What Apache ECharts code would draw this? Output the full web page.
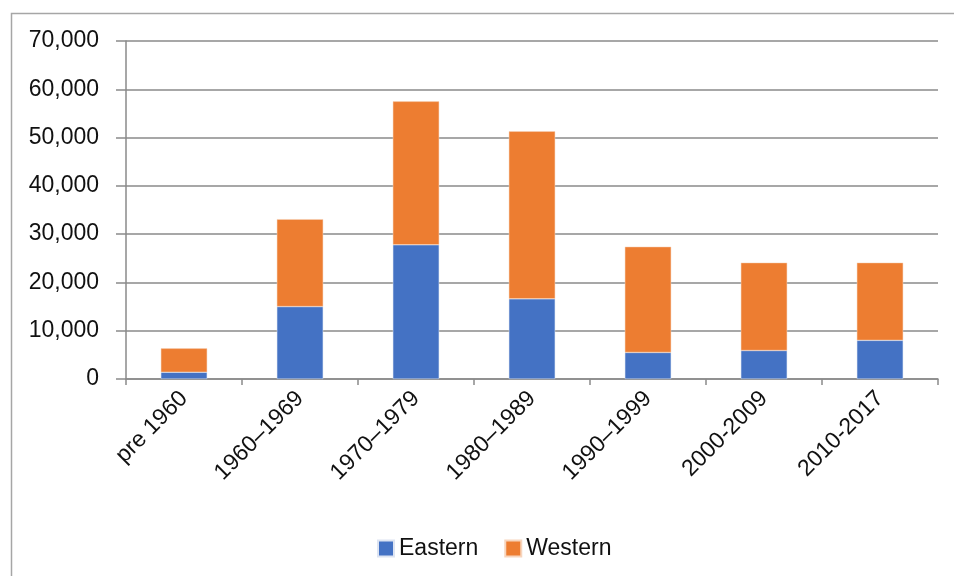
<!DOCTYPE html>
<html>
<head>
<meta charset="utf-8">
<script src="https://cdn.jsdelivr.net/npm/echarts@6/dist/echarts.min.js"></script>
<style>html,body{margin:0;padding:0;background:#fff}#c{width:954px;height:576px}</style>
</head>
<body>
<div id="c"></div>
<script>
const categories = ['pre 1960', '1960\u20131969', '1970\u20131979', '1980\u20131989', '1990\u20131999', '2000-2009', '2010-2017'];
const eastern = [1400, 15000, 27800, 16600, 5500, 5900, 8000];
const western = [4950, 18100, 29700, 34700, 21900, 18200, 16100];
const yTicks = { min: 0, max: 70000, interval: 10000 };

const FONT = '"Liberation Sans", Arial, sans-serif';
const chart = echarts.init(document.getElementById('c'), null, { renderer: 'canvas' });
chart.setOption({
  animation: false,
  backgroundColor: '#ffffff',
  graphic: [{
    type: 'rect', left: 9, top: 11, z: -10,
    shape: { width: 960, height: 580 },
    style: { fill: 'none', stroke: '#a6a6a6', lineWidth: 1.5 }
  }],
  legend: {
    bottom: 11, left: 372, itemWidth: 16, itemHeight: 16, itemGap: 26,
    icon: 'rect',
    textStyle: { fontFamily: FONT, fontSize: 23, color: '#111' },
    data: ['Eastern', 'Western']
  },
  grid: { left: 126, right: 16, top: 41, bottom: 197, containLabel: false },
  xAxis: {
    type: 'category', data: categories,
    axisLine: { show: true, lineStyle: { color: '#8a8a8a', width: 1.5 } },
    axisTick: { show: true, length: 6, alignWithLabel: false, lineStyle: { color: '#8a8a8a', width: 1.5 } },
    axisLabel: { rotate: 45, margin: 16, interval: 0, fontFamily: FONT, fontSize: 23, color: '#111' }
  },
  yAxis: {
    type: 'value', min: yTicks.min, max: yTicks.max, interval: yTicks.interval,
    axisLine: { show: true, lineStyle: { color: '#8a8a8a', width: 1.5 } },
    axisTick: { show: true, length: 10, lineStyle: { color: '#8a8a8a', width: 1.5 } },
    splitLine: { show: true, lineStyle: { color: '#8a8a8a', width: 1.5 } },
    axisLabel: {
      margin: 27, fontFamily: FONT, fontSize: 23, color: '#111',
      formatter: v => v.toLocaleString('en-US')
    }
  },
  series: [
    { name: 'Eastern', type: 'bar', stack: 'total', data: eastern, barWidth: '40%',
      itemStyle: { color: '#4472C4', borderColor: '#dde4f2', borderWidth: 0.5 } },
    { name: 'Western', type: 'bar', stack: 'total', data: western, barWidth: '40%',
      itemStyle: { color: '#ED7D31', borderColor: '#f7d5bd', borderWidth: 0.5 } }
  ]
});
</script>
</body>
</html>
